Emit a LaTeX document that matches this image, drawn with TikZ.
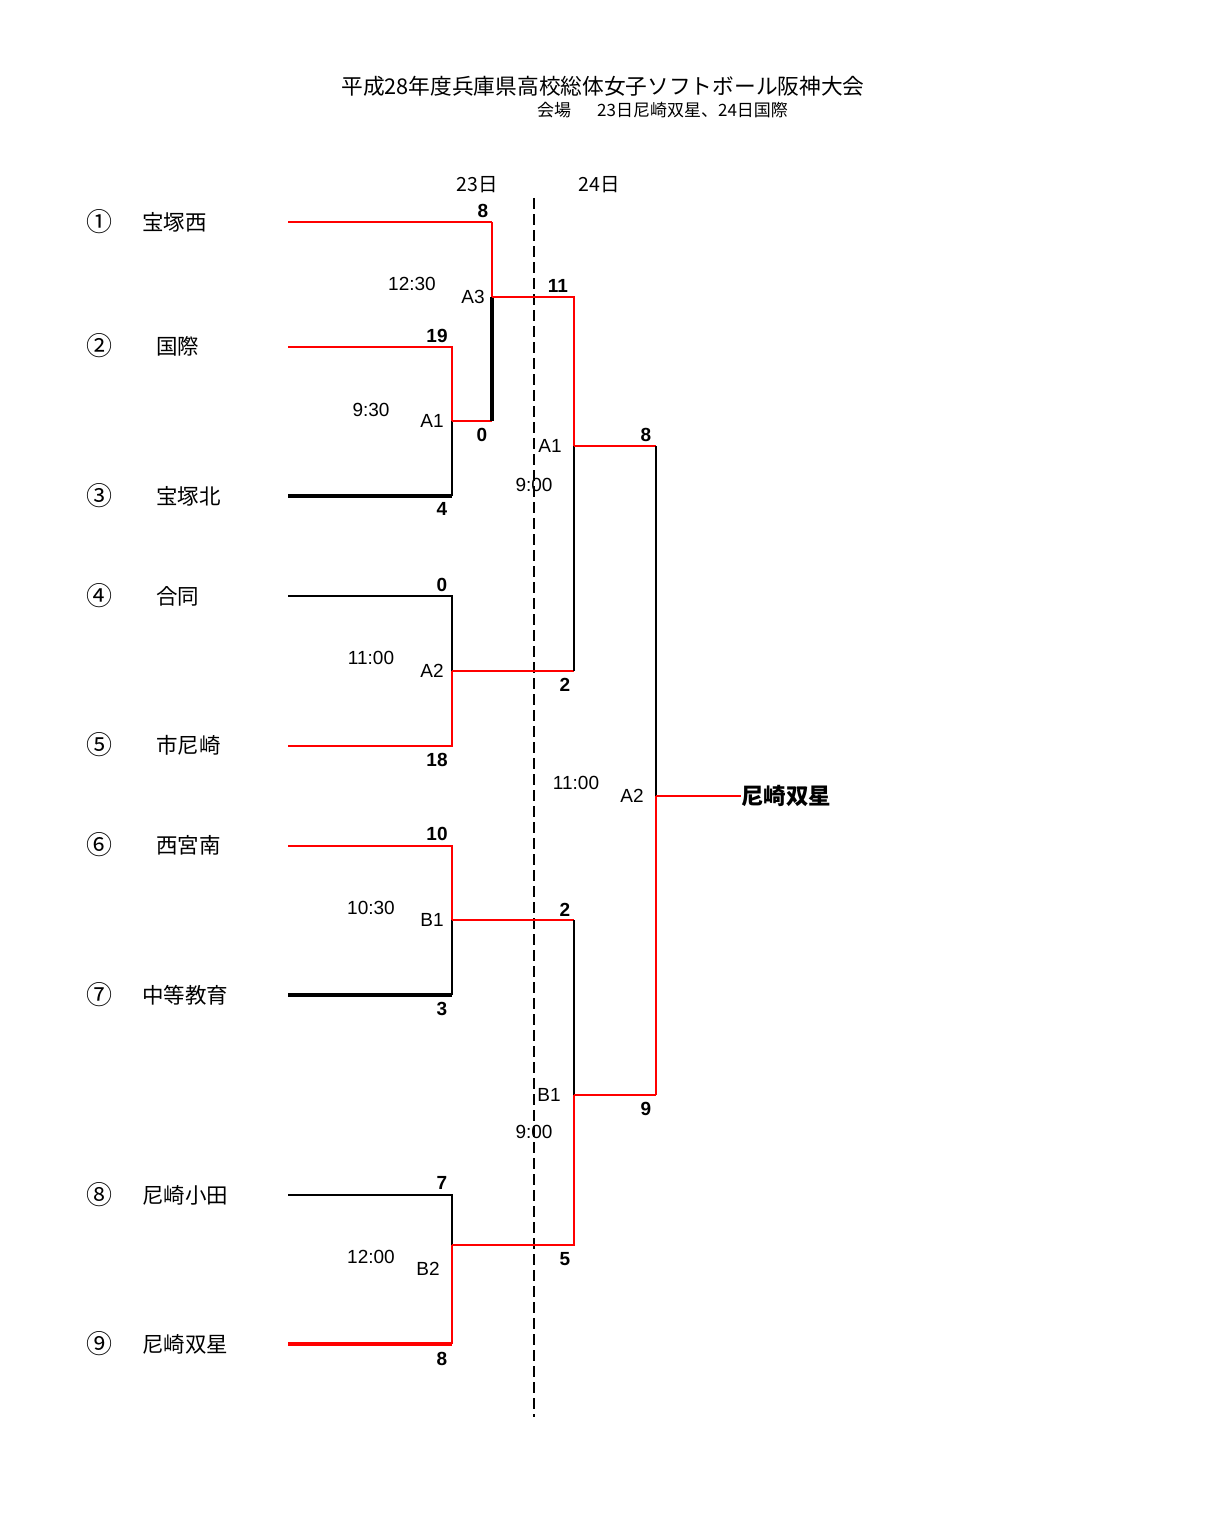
\documentclass[tikz,border=0pt]{standalone}
\usepackage{fontspec}
\setmainfont{Liberation Sans}
\newfontfamily\jp{Noto Sans CJK JP}
\begin{document}
\begin{tikzpicture}[x=1pt,y=-1pt,
  thinln/.style={line width=2pt},
  medln/.style={line width=2.8pt},
  thickln/.style={line width=3.2pt},
  rd/.style={draw=red},
  bk/.style={draw=black},
  score/.style={inner sep=0pt,font=\fontsize{19}{19}\selectfont\bfseries},
  lab/.style={inner sep=0pt,font=\fontsize{19}{19}\selectfont},
  team/.style={inner sep=0pt,anchor=west,font=\jp\fontsize{21.5}{21.5}\selectfont},
  cnum/.style={inner sep=0pt,font=\jp\fontsize{26}{26}\selectfont},
  line join=miter]
\useasboundingbox[fill=white] (0,0) rectangle (1206,1517);

% title
\node[inner sep=0pt,font=\jp\fontsize{21.7}{21.7}\selectfont] (title) at (603,86) {平成28年度兵庫県高校総体女子ソフトボール阪神大会};
\node[inner sep=0pt,anchor=west,font=\jp\fontsize{17}{17}\selectfont] (venue) at (537,110) {会場};
\node[inner sep=0pt,anchor=west,font=\jp\fontsize{17}{17}\selectfont] (venue2) at (597,110) {23日尼崎双星、24日国際};

% day headings
\node[inner sep=0pt,font=\jp\fontsize{19.5}{19.5}\selectfont] (d23) at (477,185) {23日};
\node[inner sep=0pt,font=\jp\fontsize{19.5}{19.5}\selectfont] (d24) at (599,185) {24日};

% teams
\node[cnum] (c1) at (99.5,222) {①}; \node[team] (n1) at (142,222) {宝塚西};
\node[cnum] (c2) at (99.5,346) {②}; \node[team] (n2) at (156,346) {国際};
\node[cnum] (c3) at (99.5,496) {③}; \node[team] (n3) at (156,496) {宝塚北};
\node[cnum] (c4) at (99.5,596) {④}; \node[team] (n4) at (156,596) {合同};
\node[cnum] (c5) at (99.5,745) {⑤}; \node[team] (n5) at (156,745) {市尼崎};
\node[cnum] (c6) at (99.5,845) {⑥}; \node[team] (n6) at (156,845) {西宮南};
\node[cnum] (c7) at (99.5,995) {⑦}; \node[team] (n7) at (142,995) {中等教育};
\node[cnum] (c8) at (99.5,1195) {⑧}; \node[team] (n8) at (142,1195) {尼崎小田};
\node[cnum] (c9) at (99.5,1344) {⑨}; \node[team] (n9) at (142,1344) {尼崎双星};

% coordinates
\coordinate (t1) at (288,222); \coordinate (e1) at (492,222);
\coordinate (t2) at (288,347); \coordinate (e2) at (452,347);
\coordinate (t3) at (288,496); \coordinate (e3) at (452,496);
\coordinate (t4) at (288,596); \coordinate (e4) at (452,596);
\coordinate (t5) at (288,746); \coordinate (e5) at (452,746);
\coordinate (t6) at (288,846); \coordinate (e6) at (452,846);
\coordinate (t7) at (288,995); \coordinate (e7) at (452,995);
\coordinate (t8) at (288,1195); \coordinate (e8) at (452,1195);
\coordinate (t9) at (288,1344); \coordinate (e9) at (452,1344);
\coordinate (a1) at (452,421); \coordinate (a1r) at (492,421);
\coordinate (a3) at (492,297); \coordinate (a3r) at (574,297);
\coordinate (s1) at (574,446); \coordinate (s1r) at (656,446);
\coordinate (a2) at (452,671); \coordinate (a2r) at (574,671);
\coordinate (b1) at (452,920); \coordinate (b1r) at (574,920);
\coordinate (sb) at (574,1095); \coordinate (sbr) at (656,1095);
\coordinate (b2) at (452,1245); \coordinate (b2r) at (574,1245);
\coordinate (f) at (656,796);
\node[inner sep=0pt,anchor=west,font=\jp\fontsize{22.5}{22.5}\selectfont\bfseries] (win) at (741,796) {尼崎双星};
\coordinate (d0) at (534,198); \coordinate (d1) at (534,1417);

% dashed day divider
\draw[line width=1.8pt,dash pattern=on 11pt off 5pt] (d0) -- (d1);

% first round: A1
\draw[rd,thinln] (t1) -- (e1);
\draw[rd,thinln] (t2) -- (e2) -- (a1);
\draw[bk,thickln] (t3) -- (e3);
\draw[bk,thinln] (e3) -- (a1);
\draw[rd,medln] (a1) -- (a1r);
% A3
\draw[rd,medln] (e1) -- (a3);
\draw[bk,thickln] (a3) -- (a1r);
\draw[rd,thinln] (a3) -- (a3r) -- (s1);
% A2
\draw[bk,thinln] (t4) -- (e4) -- (a2);
\draw[rd,thinln] (t5) -- (e5) -- (a2);
\draw[rd,thinln] (a2) -- (a2r);
\draw[bk,thinln] (a2r) -- (s1);
\draw[rd,medln] (s1) -- (s1r);
% B1
\draw[rd,thinln] (t6) -- (e6) -- (b1);
\draw[bk,thickln] (t7) -- (e7);
\draw[bk,thinln] (e7) -- (b1);
\draw[rd,medln] (b1) -- (b1r);
\draw[bk,thinln] (b1r) -- (sb);
% B2
\draw[bk,thinln] (t8) -- (e8) -- (b2);
\draw[rd,thickln] (t9) -- (e9);
\draw[rd,thinln] (e9) -- (b2);
\draw[rd,thinln] (b2) -- (b2r) -- (sb);
\draw[rd,thinln] (sb) -- (sbr);
% final
\draw[bk,thinln] (s1r) -- (f);
\draw[rd,thinln] (f) -- (sbr);
\draw[rd,thinln] (f) -- (win.west);

% scores
\node[score] (s_a) at (483,211) {8};
\node[score] (s_b) at (558,286) {11};
\node[score] (s_c) at (437,336) {19};
\node[score] (s_d) at (482,435) {0};
\node[score] (s_e) at (442,509) {4};
\node[score] (s_f) at (646,435) {8};
\node[score] (s_g) at (442,585) {0};
\node[score] (s_h) at (565,685) {2};
\node[score] (s_i) at (437,760) {18};
\node[score] (s_j) at (437,834) {10};
\node[score] (s_k) at (565,910) {2};
\node[score] (s_l) at (442,1009) {3};
\node[score] (s_m) at (646,1109) {9};
\node[score] (s_n) at (442,1183) {7};
\node[score] (s_o) at (565,1259) {5};
\node[score] (s_p) at (442,1359) {8};

% times
\node[lab] (tm1) at (412,284) {12:30};
\node[lab] (tm2) at (371,410) {9:30};
\node[lab] (tm3) at (371,658) {11:00};
\node[lab] (tm4) at (371,908) {10:30};
\node[lab] (tm5) at (371,1257) {12:00};
\node[lab] (tm6) at (534,485) {9:00};
\node[lab] (tm7) at (534,1132) {9:00};
\node[lab] (tm8) at (576,783) {11:00};

% game labels
\node[lab] (g1) at (473,297) {A3};
\node[lab] (g2) at (432,421) {A1};
\node[lab] (g3) at (550,446) {A1};
\node[lab] (g4) at (432,671) {A2};
\node[lab] (g5) at (632,796) {A2};
\node[lab] (g6) at (432,920) {B1};
\node[lab] (g7) at (549,1095) {B1};
\node[lab] (g8) at (428,1269) {B2};
\end{tikzpicture}
\end{document}
